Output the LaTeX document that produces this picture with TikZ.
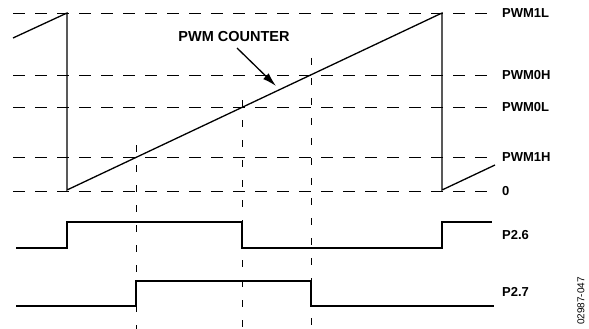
\documentclass[tikz,border=0pt]{standalone}
\usepackage{fontspec}
\setmainfont{Liberation Sans}
\usetikzlibrary{positioning,arrows.meta}
\tikzset{guide/.style={draw=black, line width=0.9pt, dash pattern=on 12pt off 10pt},
       marker/.style={draw=black, line width=0.9pt, dash pattern=on 7pt off 13pt},
       wave/.style={draw=black, line width=1.3pt},
       lbl/.style={font=\fontsize{13}{15}\selectfont\bfseries, anchor=west, inner sep=0pt, text=black}}

\begin{document}
\begin{tikzpicture}[x=1pt, y=-1pt]
\useasboundingbox (0,0) rectangle (589,329);
% counter levels
\foreach \lev/\txt/\nm in {13/PWM1L/pwmA, 75/PWM0H/pwmB, 107/PWM0L/pwmC, 157/PWM1H/pwmD, 191/0/zero}{
\node [lbl] (\nm) at (502,\lev) {\txt};
\draw [guide] (13,\lev) -- ([xshift=-7pt]\nm.west);
}
% crossing markers
\foreach \xx/\top in {136/145, 242/100, 311/58}
\draw [marker] (\xx,\top) -- (\xx,329);
% counter
\draw [wave, line join=miter] (13,38) -- (67,13) -- (67,190) -- (442,13) -- (442,190) -- (495,165);
\node [lbl, anchor=center, font=\fontsize{14.5}{16}\selectfont\bfseries] (cnt) at (234,37) {PWM COUNTER};
\coordinate (tail) at (237,48);
\coordinate (tip) at (276,86);
\draw [line width=1.3pt, -{Latex[length=14pt,width=8pt]}] (tail) -- (tip);
% outputs
\node [lbl] (p26) at (502,235) {P2.6};
\node [lbl] (p27) at (502,292) {P2.7};
\draw [wave] (16,248) -- (67,248) -- (67,222) -- (242,222) -- (242,248) -- (442,248) -- (442,222) -- (492,222);
\draw [wave] (16,306) -- (136,306) -- (136,281) -- (311,281) -- (311,306) -- (494,306);
\node [rotate=90, inner sep=0pt, font=\fontsize{10}{11}\selectfont] (fig) at (581,301) {02987-047};
\end{tikzpicture}
\end{document}
